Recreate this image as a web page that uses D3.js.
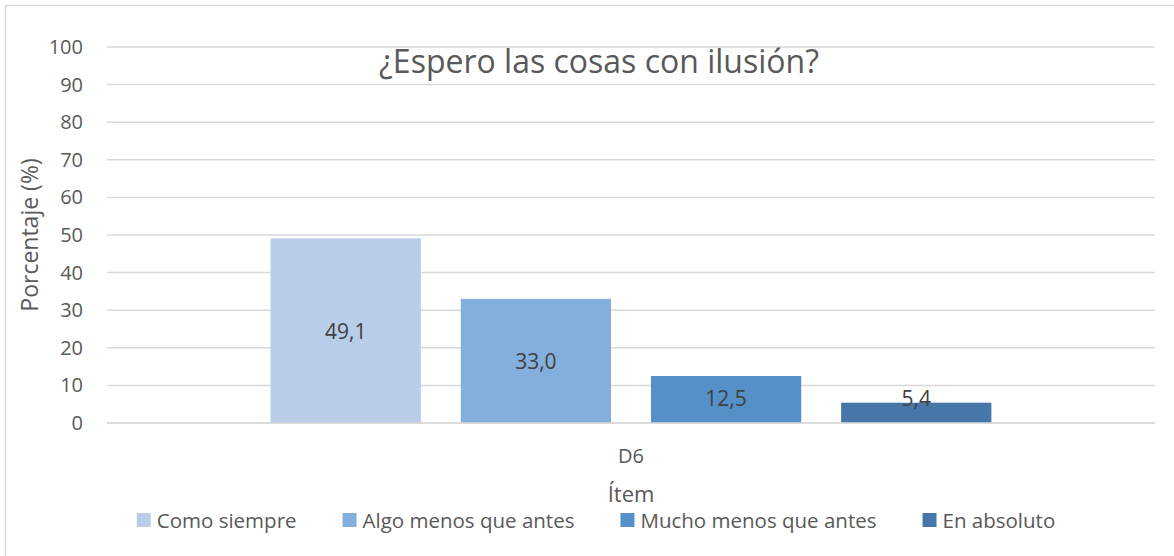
<!DOCTYPE html>
<html>
<head>
<meta charset="utf-8">
<script src="https://cdn.jsdelivr.net/npm/d3@7"></script>
<style>
  body { margin: 0; background: #fff; }
  svg { display: block; font-family: "Open Sans", "Noto Sans", sans-serif; }
</style>
</head>
<body>
<div id="chart"></div>
<script>
// data
const categories = ["D6"];
const seriesNames = ["Como siempre", "Algo menos que antes", "Mucho menos que antes", "En absoluto"];
const seriesValues = [49.1, 33.0, 12.5, 5.4];
const seriesColors = ["#b7cde8", "#84afdc", "#5590c8", "#4677a8"];
const yTicks = [0, 10, 20, 30, 40, 50, 60, 70, 80, 90, 100];

const width = 1174, height = 556;
const plot = { left: 107, right: 1155, top: 47, bottom: 423 };
const textColor = "#595959";

const svg = d3.select("#chart").append("svg")
  .attr("width", width)
  .attr("height", height);

// chart frame
svg.append("rect")
  .attr("x", 5.5).attr("y", 5.5)
  .attr("width", width + 10).attr("height", height + 10)
  .attr("fill", "#fff")
  .attr("stroke", "#d9d9d9")
  .attr("stroke-width", 1.5);

const y = d3.scaleLinear().domain([0, 100]).range([plot.bottom, plot.top]);

const x0 = d3.scaleBand()
  .domain(categories)
  .range([plot.left, plot.right])
  .paddingInner(0)
  .paddingOuter(0.227);

const x1 = d3.scaleBand()
  .domain(seriesNames)
  .range([0, x0.bandwidth()])
  .paddingInner(0.21)
  .paddingOuter(0);

// gridlines
svg.append("g")
  .selectAll("line")
  .data(yTicks)
  .enter()
  .append("line")
  .attr("x1", plot.left)
  .attr("x2", plot.right)
  .attr("y1", d => y(d))
  .attr("y2", d => y(d))
  .attr("stroke", "#d9d9d9")
  .attr("stroke-width", 1.5);

// y axis
const yAxis = svg.append("g")
  .attr("transform", "translate(" + plot.left + ",0)")
  .call(d3.axisLeft(y).tickValues(yTicks).tickSize(0).tickPadding(24));
yAxis.select(".domain").remove();
yAxis.selectAll("text")
  .attr("fill", textColor)
  .style("font-size", "20px")
  .style("font-family", "'Open Sans', sans-serif");

// bars
const group = svg.append("g")
  .selectAll("g")
  .data(categories)
  .enter()
  .append("g")
  .attr("transform", d => "translate(" + x0(d) + ",0)");

const barData = seriesNames.map((name, i) => ({ name: name, value: seriesValues[i], color: seriesColors[i] }));

group.selectAll("rect")
  .data(barData)
  .enter()
  .append("rect")
  .attr("x", d => x1(d.name))
  .attr("y", d => y(d.value))
  .attr("width", x1.bandwidth())
  .attr("height", d => y(0) - y(d.value))
  .attr("fill", d => d.color);

// x axis baseline
svg.append("line")
  .attr("x1", plot.left).attr("x2", plot.right)
  .attr("y1", y(0)).attr("y2", y(0))
  .attr("stroke", "#d9d9d9")
  .attr("stroke-width", 1.5);

// value labels
group.selectAll("text.val")
  .data(barData)
  .enter()
  .append("text")
  .attr("class", "val")
  .attr("x", d => x1(d.name) + x1.bandwidth() / 2)
  .attr("y", d => Math.min((y(d.value) + y(0)) / 2, y(0) - 25))
  .attr("text-anchor", "middle")
  .attr("dominant-baseline", "central")
  .attr("fill", "#404040")
  .style("font-size", "21px")
  .text(d => d.value.toFixed(1).replace(".", ","));

// category label
svg.append("g")
  .selectAll("text")
  .data(categories)
  .enter()
  .append("text")
  .attr("x", d => x0(d) + x0.bandwidth() / 2)
  .attr("y", 455)
  .attr("text-anchor", "middle")
  .attr("dominant-baseline", "central")
  .attr("fill", textColor)
  .style("font-size", "20px")
  .text(d => d);

// title
svg.append("text")
  .attr("x", 599)
  .attr("y", 60)
  .attr("text-anchor", "middle")
  .attr("dominant-baseline", "central")
  .attr("fill", textColor)
  .style("font-size", "32px")
  .text("¿Espero las cosas con ilusión?");

// axis titles
svg.append("text")
  .attr("transform", "translate(29,235) rotate(-90)")
  .attr("text-anchor", "middle")
  .attr("dominant-baseline", "central")
  .attr("fill", textColor)
  .style("font-size", "23px")
  .text("Porcentaje (%)");

svg.append("text")
  .attr("x", 631)
  .attr("y", 493)
  .attr("text-anchor", "middle")
  .attr("dominant-baseline", "central")
  .attr("fill", textColor)
  .style("font-size", "22px")
  .text("Ítem");

// legend
const legend = svg.append("g").attr("transform", "translate(0,520)");
const items = legend.selectAll("g")
  .data(barData)
  .enter()
  .append("g");
items.append("rect")
  .attr("y", -7)
  .attr("width", 14)
  .attr("height", 14)
  .attr("fill", d => d.color);
items.append("text")
  .attr("x", 20)
  .attr("dominant-baseline", "central")
  .attr("fill", textColor)
  .style("font-size", "20.5px")
  .text(d => d.name);

// lay legend items out in a centred row
const gap = 46;
let widths = [];
items.each(function() { widths.push(this.getBBox().width); });
const total = d3.sum(widths) + gap * (widths.length - 1);
let cx = 596 - total / 2;
items.attr("transform", (d, i) => {
  const t = "translate(" + cx + ",0)";
  cx += widths[i] + gap;
  return t;
});
</script>
</body>
</html>
